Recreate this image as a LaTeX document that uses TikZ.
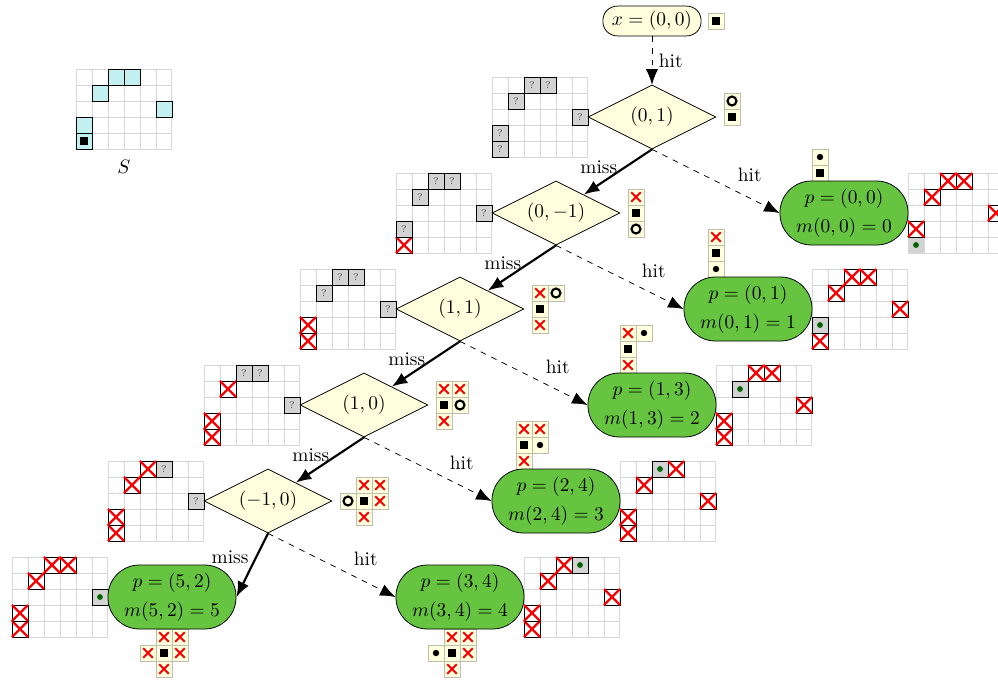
\documentclass[tikz,border=0pt]{standalone}
\usepackage{tikz}
\usetikzlibrary{shapes.geometric,arrows.meta}
\definecolor{paleyellow}{RGB}{255,255,222}
\definecolor{leafgreen}{RGB}{102,196,64}
\definecolor{shapecyan}{RGB}{194,240,240}
\definecolor{unknowngray}{RGB}{211,211,211}
\definecolor{gridgray}{RGB}{215,215,215}
\definecolor{cellborder}{RGB}{190,190,175}
\definecolor{dotgreen}{RGB}{0,100,0}
\newcommand{\cellsz}{0.29cm}
% boards: lower left corner of a cell
\newcommand{\bgrid}{\draw[gridgray,line width=0.5pt,step=1] (0,0) grid (6,5);}
\newcommand{\bq}[2]{\draw[fill=unknowngray] (#1,#2) rectangle +(1,1);
  \node[font=\tiny,text=black!70,inner sep=0pt] at (#1+0.5,#2+0.5) {?};}
\newcommand{\bx}[2]{\draw (#1,#2) rectangle +(1,1);
  \draw[red,line width=1.2pt] (#1,#2) -- +(1,1) (#1,#2+1) -- +(1,-1);}
\newcommand{\bdot}[2]{\draw[fill=unknowngray] (#1,#2) rectangle +(1,1);
  \fill[dotgreen] (#1+0.5,#2+0.5) circle (0.18);}
\newcommand{\bdotnb}[2]{\fill[unknowngray] (#1,#2) rectangle +(1,1);
  \fill[dotgreen] (#1+0.5,#2+0.5) circle (0.18);}
\newcommand{\bshape}[2]{\draw[fill=shapecyan] (#1,#2) rectangle +(1,1);}
% local views: centre of a cell
\newcommand{\lcell}[2]{\draw[cellborder,fill=paleyellow] (#1-0.5,#2-0.5) rectangle +(1,1);}
\newcommand{\lsq}[2]{\lcell{#1}{#2}\fill (#1-0.22,#2-0.22) rectangle +(0.44,0.44);}
\newcommand{\ldotm}[2]{\lcell{#1}{#2}\fill (#1,#2) circle (0.2);}
\newcommand{\lring}[2]{\lcell{#1}{#2}\draw[line width=1.1pt] (#1,#2) circle (0.28);}
\newcommand{\lcross}[2]{\lcell{#1}{#2}\draw[red,line width=1pt] (#1-0.3,#2-0.3) -- (#1+0.3,#2+0.3) (#1-0.3,#2+0.3) -- (#1+0.3,#2-0.3);}

\begin{document}
\begin{tikzpicture}[x=\cellsz,y=\cellsz,
    test/.style={diamond,draw,fill=paleyellow,aspect=2,minimum width=2.32cm,minimum height=1.16cm,inner sep=0pt},
    leaf/.style={rectangle,rounded corners=0.57cm,draw,fill=leafgreen,minimum width=2.32cm,minimum height=1.16cm,align=center,inner sep=0pt},
    start/.style={rectangle,rounded corners=0.26cm,draw,fill=paleyellow,minimum width=1.78cm,minimum height=0.54cm,inner sep=0pt},
    miss/.style={-{Latex[length=2.8mm,width=2.2mm]},line width=1.1pt},
    hit/.style={-{Latex[length=2.8mm,width=2.2mm]},dashed}]
  \useasboundingbox (-40.75,-35.3125) rectangle (21.625,7.3125);

  % the shape S
  \begin{scope}[shift={(-36,-2)}]
    \bgrid
    \bshape{0}{0} \bshape{0}{1} \bshape{1}{3} \bshape{2}{4} \bshape{3}{4} \bshape{5}{2}
    \fill (0.28,0.28) rectangle +(0.44,0.44);
  \end{scope}
  \node (slabel) at (-33,-3.1) {$S$};

  % boards next to the tests
  \begin{scope}[shift={(-10,-2.5)}]
    \bgrid
    \bq{0}{0} \bq{0}{1} \bq{1}{3} \bq{2}{4} \bq{3}{4} \bq{5}{2}
  \end{scope}
  \begin{scope}[shift={(-16,-8.5)}]
    \bgrid
    \bx{0}{0} \bq{0}{1} \bq{1}{3} \bq{2}{4} \bq{3}{4} \bq{5}{2}
  \end{scope}
  \begin{scope}[shift={(-22,-14.5)}]
    \bgrid
    \bx{0}{0} \bx{0}{1} \bq{1}{3} \bq{2}{4} \bq{3}{4} \bq{5}{2}
  \end{scope}
  \begin{scope}[shift={(-28,-20.5)}]
    \bgrid
    \bx{0}{0} \bx{0}{1} \bx{1}{3} \bq{2}{4} \bq{3}{4} \bq{5}{2}
  \end{scope}
  \begin{scope}[shift={(-34,-26.5)}]
    \bgrid
    \bx{0}{0} \bx{0}{1} \bx{1}{3} \bx{2}{4} \bq{3}{4} \bq{5}{2}
  \end{scope}

  % boards next to the leaves
  \begin{scope}[shift={(16,-8.5)}]
    \bgrid
    \bdotnb{0}{0} \bx{0}{1} \bx{1}{3} \bx{2}{4} \bx{3}{4} \bx{5}{2}
  \end{scope}
  \begin{scope}[shift={(10,-14.5)}]
    \bgrid
    \bx{0}{0} \bdot{0}{1} \bx{1}{3} \bx{2}{4} \bx{3}{4} \bx{5}{2}
  \end{scope}
  \begin{scope}[shift={(4,-20.5)}]
    \bgrid
    \bx{0}{0} \bx{0}{1} \bdot{1}{3} \bx{2}{4} \bx{3}{4} \bx{5}{2}
  \end{scope}
  \begin{scope}[shift={(-2,-26.5)}]
    \bgrid
    \bx{0}{0} \bx{0}{1} \bx{1}{3} \bdot{2}{4} \bx{3}{4} \bx{5}{2}
  \end{scope}
  \begin{scope}[shift={(-8,-32.5)}]
    \bgrid
    \bx{0}{0} \bx{0}{1} \bx{1}{3} \bx{2}{4} \bdot{3}{4} \bx{5}{2}
  \end{scope}
  \begin{scope}[shift={(-40,-32.5)}]
    \bgrid
    \bx{0}{0} \bx{0}{1} \bx{1}{3} \bx{2}{4} \bx{3}{4} \bdot{5}{2}
  \end{scope}

  % local views
  \lsq{4}{6}
  \lring{5}{1} \lsq{5}{0}
  \lcross{-1}{-5} \lsq{-1}{-6} \lring{-1}{-7}
  \lcross{-7}{-11} \lring{-6}{-11} \lsq{-7}{-12} \lcross{-7}{-13}
  \lcross{-13}{-17} \lcross{-12}{-17} \lsq{-13}{-18} \lring{-12}{-18} \lcross{-13}{-19}
  \lcross{-18}{-23} \lcross{-17}{-23} \lring{-19}{-24} \lsq{-18}{-24} \lcross{-17}{-24} \lcross{-18}{-25}
  \ldotm{10.5}{-2.5} \lsq{10.5}{-3.5}
  \lcross{4}{-7.5} \lsq{4}{-8.5} \ldotm{4}{-9.5}
  \lcross{-1.5}{-13.5} \ldotm{-0.5}{-13.5} \lsq{-1.5}{-14.5} \lcross{-1.5}{-15.5}
  \lcross{-8}{-19.5} \lcross{-7}{-19.5} \lsq{-8}{-20.5} \ldotm{-7}{-20.5} \lcross{-8}{-21.5}
  \lcross{-12.5}{-32.5} \lcross{-11.5}{-32.5} \ldotm{-13.5}{-33.5} \lsq{-12.5}{-33.5} \lcross{-11.5}{-33.5} \lcross{-12.5}{-34.5}
  \lcross{-30.5}{-32.5} \lcross{-29.5}{-32.5} \lcross{-31.5}{-33.5} \lsq{-30.5}{-33.5} \lcross{-29.5}{-33.5} \lcross{-30.5}{-34.5}

  % tree
  \node[start] (root) at (0,6) {$x=(0,0)$};
  \node[test] (t1) at (0,0) {$(0,1)$};
  \node[test] (t2) at (-6,-6) {$(0,-1)$};
  \node[test] (t3) at (-12,-12) {$(1,1)$};
  \node[test] (t4) at (-18,-18) {$(1,0)$};
  \node[test] (t5) at (-24,-24) {$(-1,0)$};
  \node[leaf] (p1) at (12,-6) {$p=(0,0)$\\[3pt]$m(0,0)=0$};
  \node[leaf] (p2) at (6,-12) {$p=(0,1)$\\[3pt]$m(0,1)=1$};
  \node[leaf] (p3) at (0,-18) {$p=(1,3)$\\[3pt]$m(1,3)=2$};
  \node[leaf] (p4) at (-6,-24) {$p=(2,4)$\\[3pt]$m(2,4)=3$};
  \node[leaf] (p5) at (-12,-30) {$p=(3,4)$\\[3pt]$m(3,4)=4$};
  \node[leaf] (p6) at (-30,-30) {$p=(5,2)$\\[3pt]$m(5,2)=5$};

  \draw[hit] (root) -- node[right]{hit} (t1);
  \draw[miss] (t1.south) -- node[pos=0.4,left]{miss} (t2);
  \draw[hit] (t1.south) -- node[pos=0.62,above right]{hit} (p1.west);
  \draw[miss] (t2.south) -- node[pos=0.4,left]{miss} (t3);
  \draw[hit] (t2.south) -- node[pos=0.62,above right]{hit} (p2.west);
  \draw[miss] (t3.south) -- node[pos=0.4,left]{miss} (t4);
  \draw[hit] (t3.south) -- node[pos=0.62,above right]{hit} (p3.west);
  \draw[miss] (t4.south) -- node[pos=0.4,left]{miss} (t5);
  \draw[hit] (t4.south) -- node[pos=0.62,above right]{hit} (p4.west);
  \draw[miss] (t5.south) -- node[pos=0.38,left]{miss} (p6.east);
  \draw[hit] (t5.south) -- node[pos=0.62,above right]{hit} (p5.west);
\end{tikzpicture}
\end{document}
